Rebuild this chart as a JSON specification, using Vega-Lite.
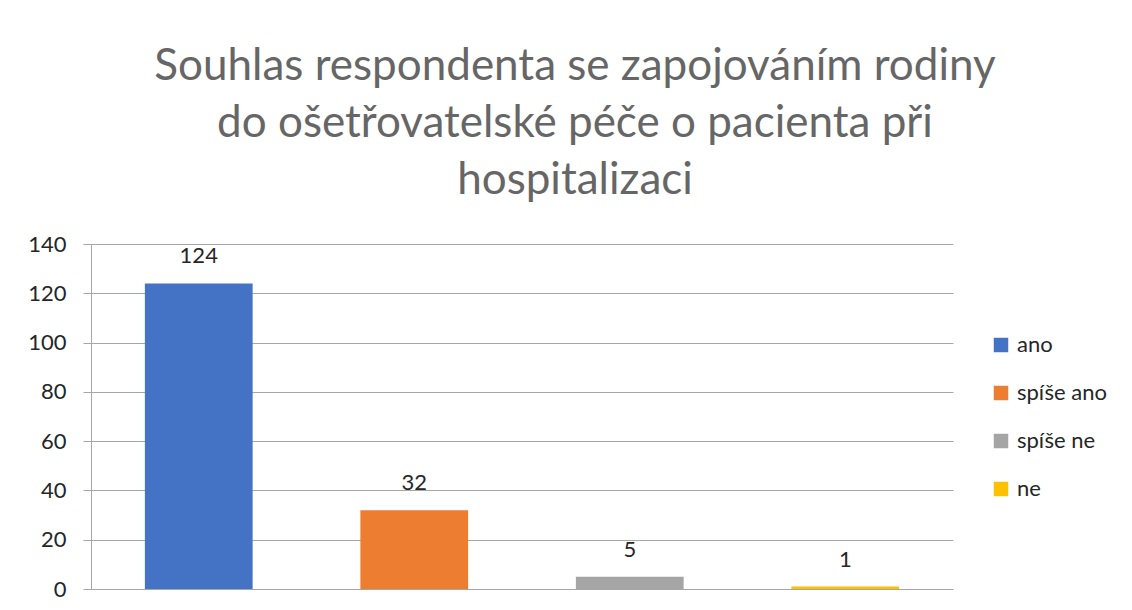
{
  "$schema": "https://vega.github.io/schema/vega-lite/v6.json",
  "width": 862,
  "height": 345,
  "autosize": {"type": "none"},
  "padding": {"left": 91, "top": 244, "right": 179, "bottom": 21},
  "background": "white",
  "title": {
    "text": ["Souhlas respondenta se zapojováním rodiny", "do ošetřovatelské péče o pacienta při", "hospitalizaci"],
    "font": "Lato",
    "fontSize": 44,
    "fontWeight": "normal",
    "color": "#666666",
    "lineHeight": 57,
    "anchor": "middle",
    "dx": 53,
    "offset": 30
  },
  "data": {
    "values": [
      {"kategorie": "ano", "pocet": 124},
      {"kategorie": "spíše ano", "pocet": 32},
      {"kategorie": "spíše ne", "pocet": 5},
      {"kategorie": "ne", "pocet": 1}
    ]
  },
  "config": {
    "view": {"stroke": null},
    "font": "Lato"
  },
  "encoding": {
    "x": {
      "field": "kategorie",
      "type": "nominal",
      "sort": ["ano", "spíše ano", "spíše ne", "ne"],
      "scale": {"paddingInner": 0.5, "paddingOuter": 0.25},
      "axis": null
    },
    "y": {
      "field": "pocet",
      "type": "quantitative",
      "scale": {"domain": [0, 140], "nice": false},
      "axis": {
        "values": [0, 20, 40, 60, 80, 100, 120, 140],
        "title": null,
        "grid": true,
        "gridColor": "#a6a6a6",
        "gridWidth": 1,
        "domain": true,
        "domainColor": "#a6a6a6",
        "tickColor": "#a6a6a6",
        "tickSize": 8,
        "labelPadding": 17,
        "labelFont": "Lato",
        "labelFontSize": 22,
        "labelColor": "#262626"
      }
    }
  },
  "layer": [
    {
      "mark": {"type": "bar"},
      "encoding": {
        "color": {
          "field": "kategorie",
          "type": "nominal",
          "sort": ["ano", "spíše ano", "spíše ne", "ne"],
          "scale": {
            "domain": ["ano", "spíše ano", "spíše ne", "ne"],
            "range": ["#4472C4", "#ED7D31", "#A5A5A5", "#FFC000"]
          },
          "legend": {
            "orient": "none",
            "legendX": 899,
            "legendY": 90,
            "title": null,
            "symbolType": "square",
            "symbolSize": 210,
            "symbolStrokeWidth": 0,
            "labelFont": "Lato",
            "labelFontSize": 22,
            "labelColor": "#262626",
            "labelOffset": 5,
            "rowPadding": 26
          }
        }
      }
    },
    {
      "mark": {"type": "text", "dy": -27, "font": "Lato", "fontSize": 22, "color": "#262626"},
      "encoding": {"text": {"field": "pocet", "type": "quantitative"}}
    }
  ]
}
